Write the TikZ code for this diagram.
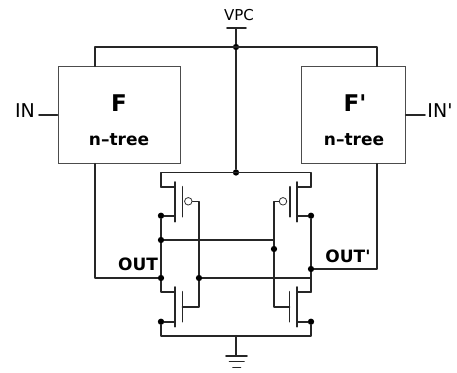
\documentclass[tikz,border=0pt]{standalone}
\usepackage{fontspec}
\setmainfont{DejaVu Sans}
\newcommand{\fsz}[1]{\fontsize{#1}{#1}\selectfont}
\tikzset{
  wire/.style={line width=1.6pt,draw=black!85,line cap=round,line join=round},
  tree/.style={draw=black!70,line width=1pt,fill=white,inner sep=0,minimum height=96.5pt},
  dot/.style={circle,fill=black,inner sep=0,minimum size=6.3pt},
  bubble/.style={circle,draw=black!80,fill=white,line width=0.8pt,inner sep=0,minimum size=7.5pt},
  lbl/.style={inner sep=0,text=black}
}
\begin{document}
\begin{tikzpicture}[x=1pt,y=-1pt]
\useasboundingbox (0,0) rectangle (457,372);
\fill[white] (0,0) rectangle (457,372);
% coordinates: rails and transistor terminals
\foreach \n/\x/\y in {vdd/236/28,vl/227/28,vr/246/28,top/236/47,tl/95/47,tr/377/47,
  bus/236/172.5,busl/161/172.5,busr/311/172.5,
  psl/161/187,psr/311/187,pcsl/175/187,pcsr/297/187,
  pdcl/175/215.7,pdcr/297/215.7,
  pc1l/175/182,pc2l/175/221.7,pc1r/297/182,pc2r/297/221.7,
  pg1l/182.3/186.7,pg2l/182.3/216.7,pg1r/289.7/186.7,pg2r/289.7/216.7,
  ngl/199/201.3,ngr/274/201.3,
  ngbl/199/306.7,ngbr/274/306.7,gbl/182.5/306.7,gbr/289.5/306.7,
  ng1l/182.5/291.7,ng2l/182.5/321.7,ng1r/289.5/291.7,ng2r/289.5/321.7,
  nc1l/175/287,nc2l/175/326.7,nc1r/297/287,nc2r/297/326.7,
  ndl/175/292,ndr/297/292,nsl/175/321.7,nsr/297/321.7,
  dl/161/292,dr/311/292,
  botl/161/335.7,botr/311/335.7,bot/236/335.7,
  g1l/226/356,g1r/247/356,g1c/236/356,g2l/229.5/361.5,g2r/244/361.5,g3l/233/367.3,g3r/240.5/367.3,
  inl/39/115,inr/425/115,cfl/95/278,cfr/377/269}
  {\coordinate (\n) at (\x,\y);}
% nodes
\node[tree,minimum width=122pt] (F) at (119,115) {};
\node[tree,minimum width=103.5pt] (Fp) at (353.5,115) {};
\node[lbl,font=\fsz{23}\bfseries] (Ft) at (119,103) {F};
\node[lbl,font=\fsz{23}\bfseries] (Fpt) at (355,103) {F\textquotesingle};
\node[lbl,font=\fsz{17}\bfseries] (Fn) at (119,139.5) {n--tree};
\node[lbl,font=\fsz{17}\bfseries] (Fpn) at (354,139.5) {n--tree};
\node[lbl,font=\fsz{19}] (IN) at (25,111) {IN};
\node[lbl,font=\fsz{19}] (INp) at (440,111) {IN\textquotesingle};
\node[lbl,font=\fsz{15}] (VPC) at (239,15.5) {VPC};
\node[lbl,font=\fsz{17}\bfseries] (OUT) at (138,264) {OUT};
\node[lbl,font=\fsz{17}\bfseries] (OUTp) at (348,256) {OUT\textquotesingle};
% junctions
\foreach \n/\x/\y in {j0/236/47,j1/236/172.5,a/161/215.7,b/161/240,c/161/278,d/199/278,e/274/249,
  f/311/215.7,g/311/269,h/311/321.7,i/161/321.7}
  {\node[dot] (\n) at (\x,\y) {};}
% wires
\draw[wire] (vl) -- (vr);
\draw[wire] (vdd) -- (j0) -- (j1);
\draw[wire] (F.north -| tl) -- (tl) -- (tr) -- (Fp.north -| tr);
\draw[wire] (inl) -- (F.west);
\draw[wire] (Fp.east) -- (inr);
\draw[wire] (F.south -| tl) -- (cfl) -- (c);
\draw[wire] (Fp.south -| tr) -- (cfr) -- (g);
\draw[wire] (psl) -- (busl) -- (busr) -- (psr);
% pull-up transistors
\draw[wire] (psl) -- (pcsl); \draw[wire] (psr) -- (pcsr);
\draw[wire] (pc1l) -- (pc2l); \draw[wire] (pc1r) -- (pc2r);
\draw[wire] (pdcl) -- (a); \draw[wire] (pdcr) -- (f);
\draw[wire] (pg1l) -- (pg2l); \draw[wire] (pg1r) -- (pg2r);
% cross coupling
\draw[wire] (a) -- (b) -- (c);
\draw[wire] (f) -- (g) -- (dr);
\draw[wire] (b) -- (274,240);
\draw[wire] (d) -- (311,278);
\draw[wire] (188,201.3) -- (ngl) -- (d) -- (ngbl) -- (gbl);
\draw[wire] (284,201.3) -- (ngr) -- (e) -- (ngbr) -- (gbr);
% pull-down transistors
\draw[wire] (c) -- (dl) -- (ndl);
\draw[wire] (dr) -- (ndr);
\draw[wire] (nc1l) -- (nc2l); \draw[wire] (nc1r) -- (nc2r);
\draw[wire] (ng1l) -- (ng2l); \draw[wire] (ng1r) -- (ng2r);
\draw[wire] (nsl) -- (i) -- (botl) -- (botr) -- (h) -- (nsr);
% bubbles
\node[bubble] (bl) at (188.3,201.3) {};
\node[bubble] (br) at (283,201.3) {};
% ground
\draw[wire] (bot) -- (g1c);
\draw[wire] (g1l) -- (g1r);
\draw[wire] (g2l) -- (g2r);
\draw[wire] (g3l) -- (g3r);
\end{tikzpicture}
\end{document}
